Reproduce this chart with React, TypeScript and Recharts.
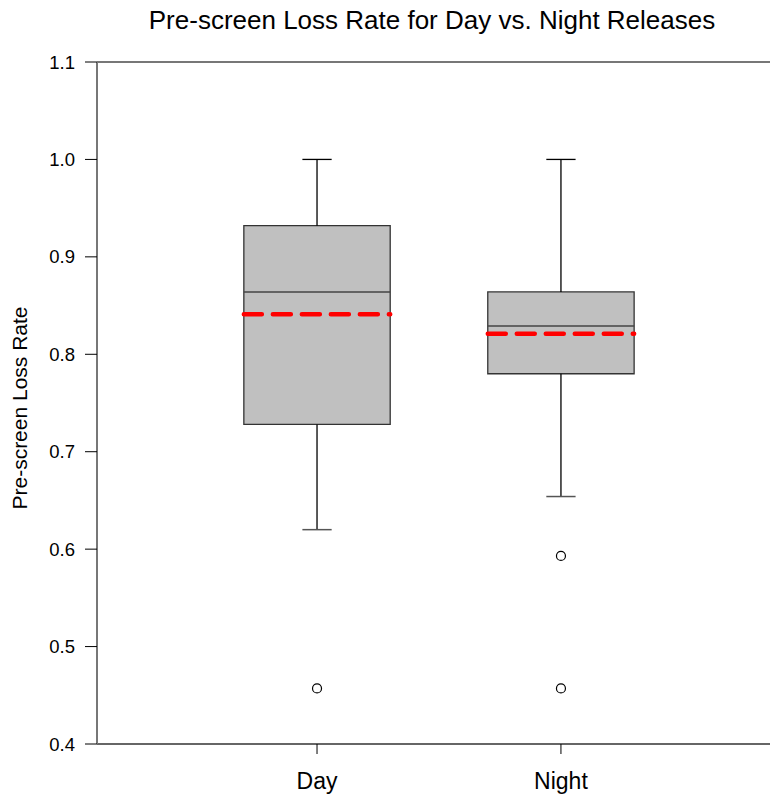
import React from 'react'
import {
  ComposedChart,
  XAxis,
  YAxis,
  Scatter,
  ReferenceArea,
  ReferenceLine,
} from 'recharts'

// Box plot stats
const groups = ['Day', 'Night']
const positions = [1, 2]
const whiskerLow = [0.62, 0.654]
const q1 = [0.728, 0.78]
const median = [0.864, 0.829]
const q3 = [0.932, 0.864]
const whiskerHigh = [1.0, 1.0]
const means = [0.841, 0.821]
const outliers = [
  { x: 1, y: 0.457 },
  { x: 2, y: 0.593 },
  { x: 2, y: 0.457 },
]
const yTicks = [0.4, 0.5, 0.6, 0.7, 0.8, 0.9, 1.0, 1.1]

const BOX_HALF = 0.3
const CAP_HALF = 0.06
const FONT = 'Arial, "Liberation Sans", sans-serif'

const OutlierDot = (props: any) => {
  const { cx, cy } = props
  if (cx == null || cy == null) return null
  return <circle cx={cx} cy={cy} r={4.5} fill='#fff' stroke='#000' strokeWidth={1.2} />
}

export default function App() {
  return (
    <div style={{ position: 'absolute', left: 0, top: 0, width: 770, height: 794, background: '#fff', fontFamily: FONT }}>
      <ComposedChart
        width={770}
        height={794}
        margin={{ top: 62, right: 0, bottom: 0, left: 0 }}
      >
        <text x={432} y={29} textAnchor='middle' fontSize={26} fill='#000' fontFamily={FONT}>
          Pre-screen Loss Rate for Day vs. Night Releases
        </text>
        <text
          x={27}
          y={408}
          transform='rotate(-90 27 408)'
          textAnchor='middle'
          fontSize={21}
          fill='#000'
          fontFamily={FONT}
        >
          Pre-screen Loss Rate
        </text>
        <XAxis
          type='number'
          dataKey='x'
          domain={[0.098, 2.857]}
          ticks={positions}
          tickFormatter={(v: number) => groups[positions.indexOf(v)] ?? ''}
          allowDataOverflow
          height={50}
          axisLine={{ stroke: '#333', strokeWidth: 1.3 }}
          tickLine={{ stroke: '#000' }}
          tickSize={10}
          tickMargin={19}
          tick={{ fontSize: 23, fill: '#000', fontFamily: FONT }}
        />
        <YAxis
          type='number'
          dataKey='y'
          domain={[0.4, 1.1]}
          ticks={yTicks}
          tickFormatter={(v: number) => v.toFixed(1)}
          allowDataOverflow
          width={97}
          axisLine={{ stroke: '#777', strokeWidth: 2 }}
          tickLine={{ stroke: '#000' }}
          tickSize={12}
          tickMargin={10}
          tick={{ fontSize: 18.5, fill: '#000', fontFamily: FONT }}
        />
        <ReferenceLine y={1.1} stroke='#777' strokeWidth={2} />
        {positions.map((p, i) => (
          <React.Fragment key={groups[i]}>
            {/* whiskers */}
            <ReferenceLine
              segment={[{ x: p, y: q3[i] }, { x: p, y: whiskerHigh[i] }]}
              stroke='#000'
              strokeWidth={1.3}
            />
            <ReferenceLine
              segment={[{ x: p, y: whiskerLow[i] }, { x: p, y: q1[i] }]}
              stroke='#000'
              strokeWidth={1.3}
            />
            <ReferenceLine
              segment={[{ x: p - CAP_HALF, y: whiskerHigh[i] }, { x: p + CAP_HALF, y: whiskerHigh[i] }]}
              stroke='#000'
              strokeWidth={1.3}
            />
            <ReferenceLine
              segment={[{ x: p - CAP_HALF, y: whiskerLow[i] }, { x: p + CAP_HALF, y: whiskerLow[i] }]}
              stroke='#555'
              strokeWidth={1.5}
            />
            {/* box */}
            <ReferenceArea
              x1={p - BOX_HALF}
              x2={p + BOX_HALF}
              y1={q1[i]}
              y2={q3[i]}
              fill='#c0c0c0'
              fillOpacity={1}
              stroke='#333'
              strokeWidth={1.3}
            />
            <ReferenceLine
              segment={[{ x: p - BOX_HALF, y: median[i] }, { x: p + BOX_HALF, y: median[i] }]}
              stroke='#444'
              strokeWidth={1.5}
            />
            <ReferenceLine
              segment={[{ x: p - BOX_HALF, y: means[i] }, { x: p + BOX_HALF, y: means[i] }]}
              stroke='#ff0000'
              strokeWidth={4.5}
              strokeDasharray='18 11'
              strokeLinecap='round'
            />
          </React.Fragment>
        ))}
        <Scatter data={outliers} dataKey='y' shape={OutlierDot} isAnimationActive={false} />
      </ComposedChart>
    </div>
  )
}
